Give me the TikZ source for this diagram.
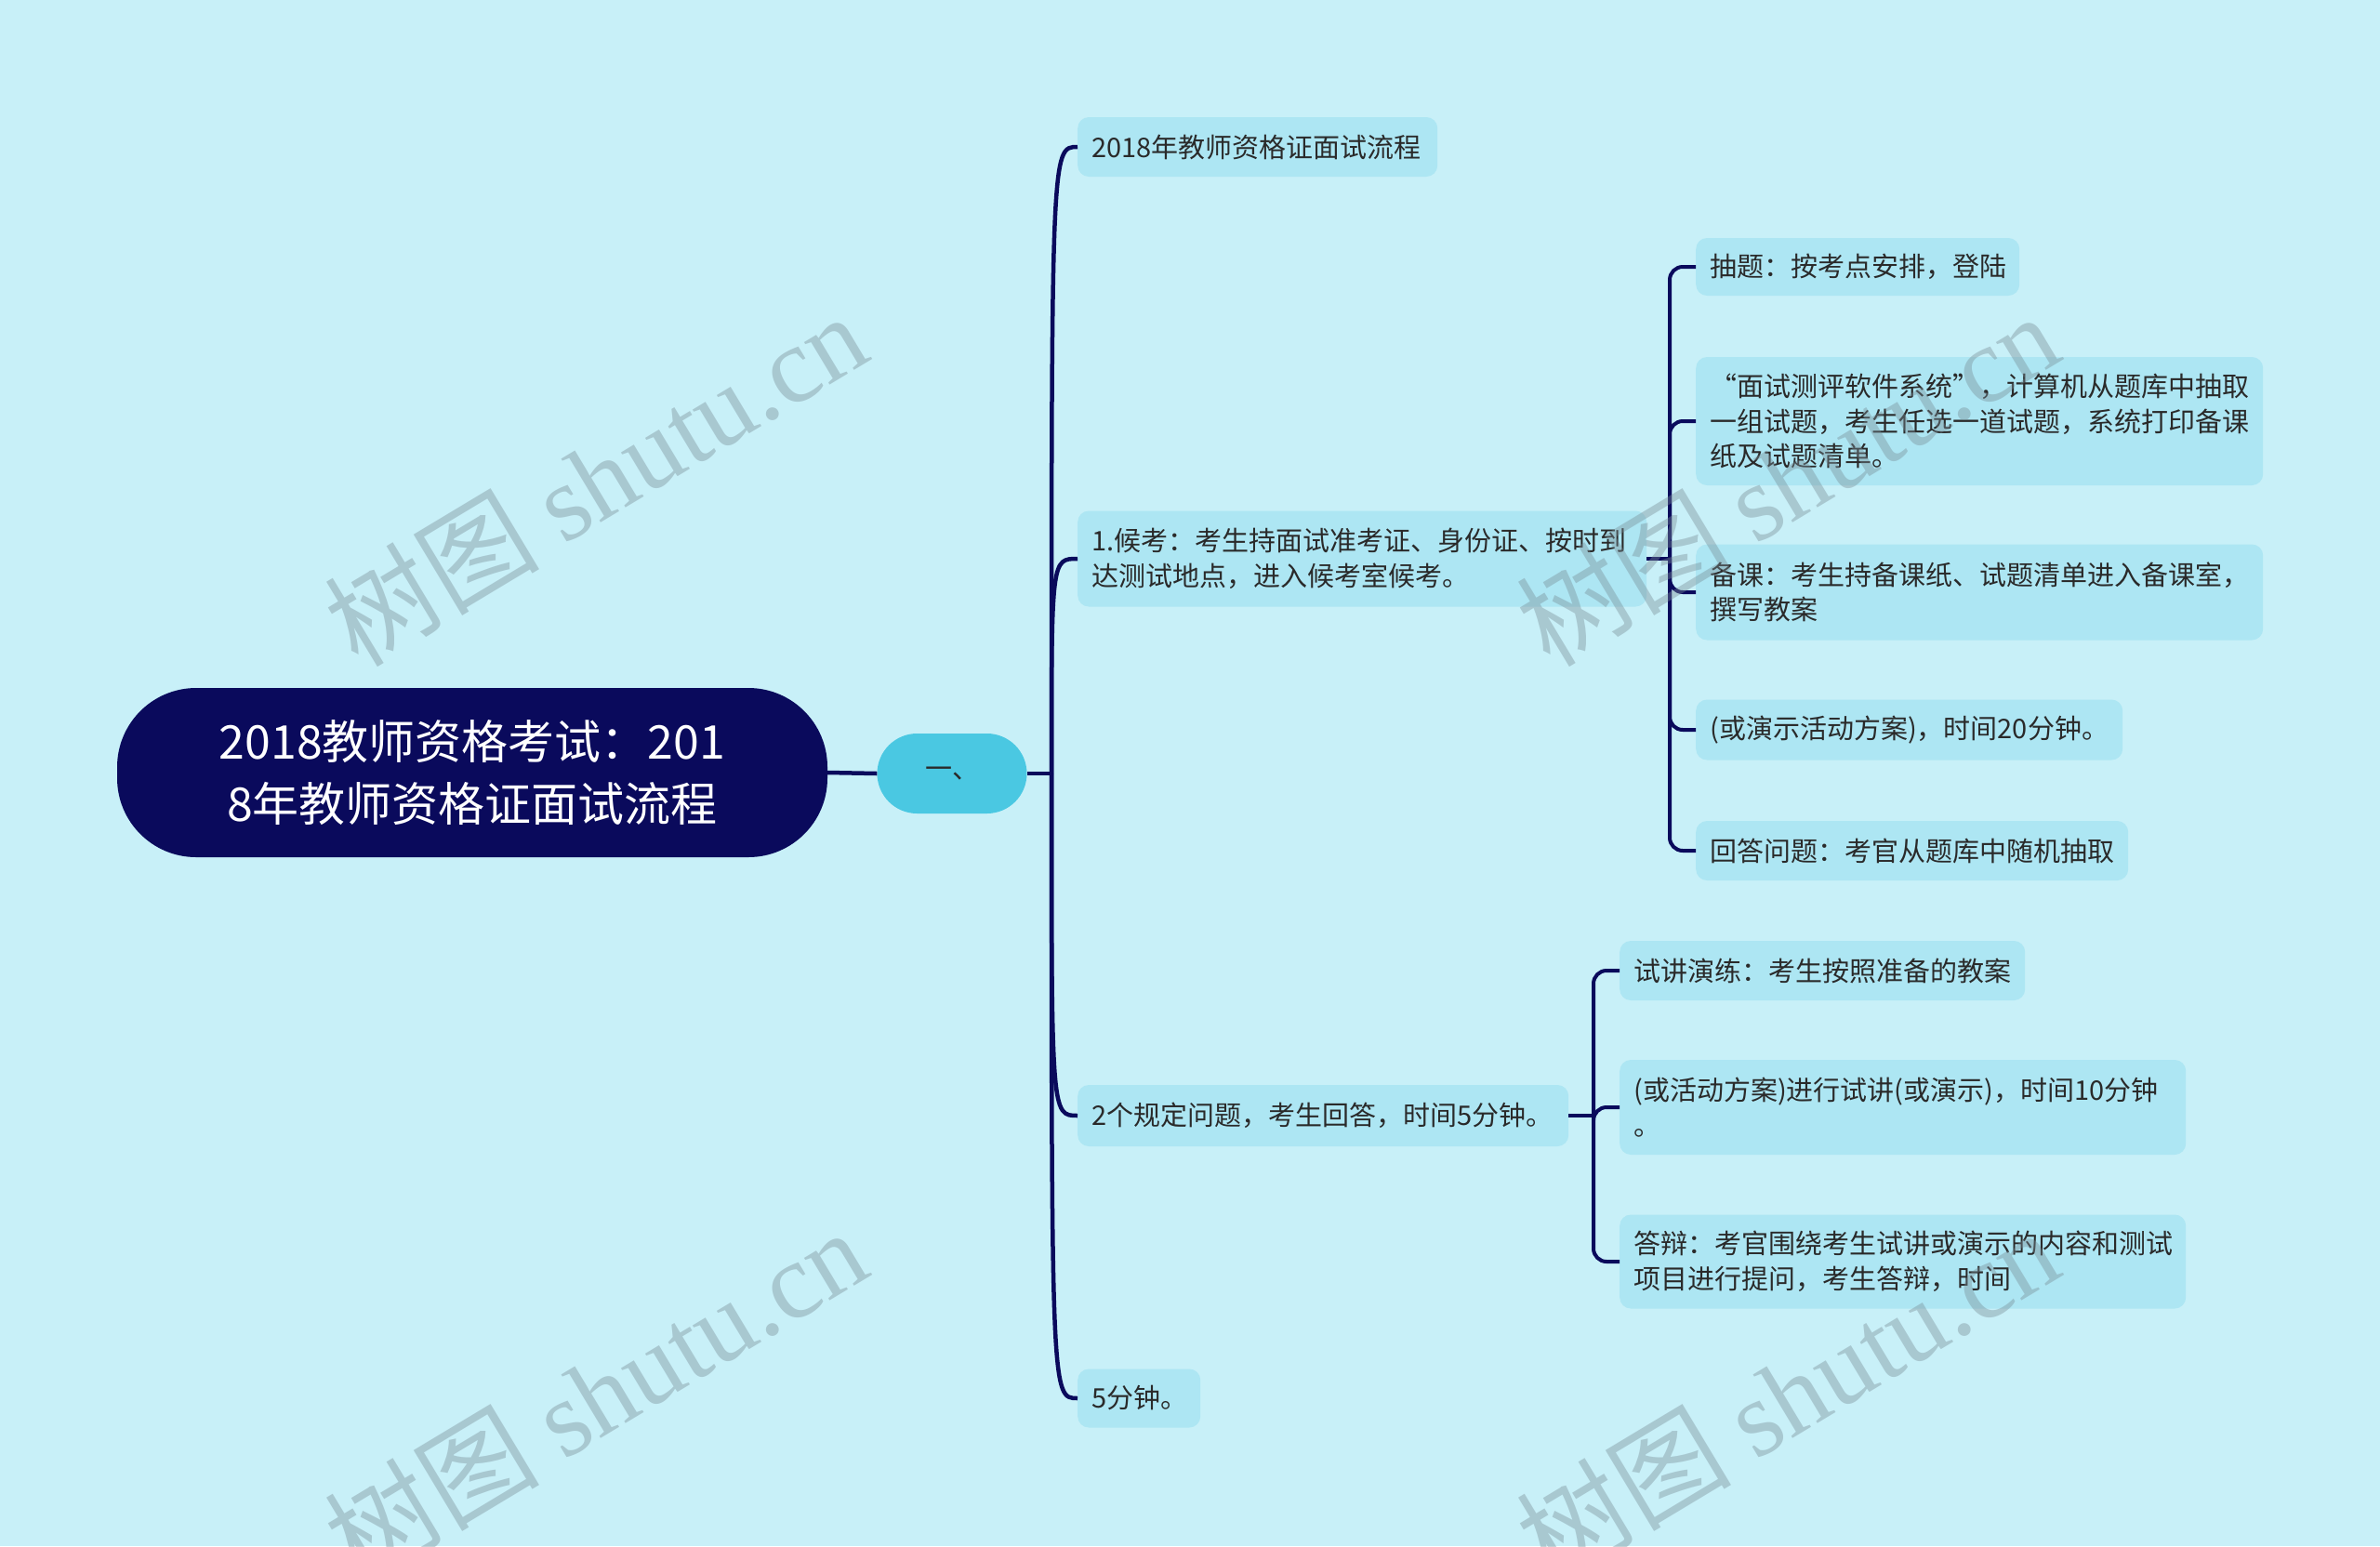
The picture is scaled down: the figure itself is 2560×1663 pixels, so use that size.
\documentclass[tikz,border=0pt]{standalone}
\usepackage{fontspec}
\setmainfont{Noto Sans CJK SC}
\newfontfamily\wmserif{Liberation Serif}
\newfontfamily\wmcjk{Noto Sans CJK SC}
\usetikzlibrary{calc}
\definecolor{bgc}{HTML}{C8F0F8}
\definecolor{boxc}{HTML}{ADE6F3}
\definecolor{navy}{HTML}{0A0A5C}
\definecolor{cyanc}{HTML}{4AC8E2}
\definecolor{txtc}{HTML}{2A2A2A}
\definecolor{wmc}{HTML}{788C96}
\begin{document}
\begin{tikzpicture}[x=1pt,y=-1pt,
  box/.style={fill=boxc, rounded corners=12pt, inner xsep=15pt, inner ysep=0pt, anchor=west, align=left, text=txtc, font=\fontsize{29}{37.5}\selectfont},
  conn/.style={draw=navy, line width=4.5pt},
  br/.style={draw=navy, line width=4pt, rounded corners=14pt},
  wm/.style={text=wmc, text opacity=0.4, rotate=31, font=\fontsize{116}{120}\selectfont}]
\fill[bgc] (0,0) rectangle (2560,1663);
\useasboundingbox (0,0) rectangle (2560,1663);

% root and first level
\node[fill=navy, rounded corners=85pt, minimum width=764pt, minimum height=182pt, text=white, align=center, font=\fontsize{50}{67}\selectfont] (root) at (508,831) {2018教师资格考试：201\\8年教师资格证面试流程};
\node[fill=cyanc, rounded corners=43pt, minimum width=161pt, minimum height=86pt, text=txtc, font=\fontsize{29}{35}\selectfont] (n1) at (1024,832) {一、};

\node[box, text width=357pt, minimum height=64pt] (A) at (1159,158) {2018年教师资格证面试流程};
\node[box, text width=582pt, minimum height=103pt] (B) at (1159,601) {1.候考：考生持面试准考证、身份证、按时到\\达测试地点，进入候考室候考。};
\node[box, text width=498pt, minimum height=66pt] (C) at (1159,1200) {2个规定问题，考生回答，时间5分钟。};
\node[box, text width=102pt, minimum height=63pt] (D) at (1159,1504) {5分钟。};

% second level under B
\node[box, text width=318pt, minimum height=62pt] (B1) at (1824,287) {抽题：按考点安排，登陆};
\node[box, text width=580pt, minimum height=138pt] (B2) at (1824,453) {“面试测评软件系统”，计算机从题库中抽取\\一组试题，考生任选一道试题，系统打印备课\\纸及试题清单。};
\node[box, text width=580pt, minimum height=103pt] (B3) at (1824,637) {备课：考生持备课纸、试题清单进入备课室，\\撰写教案};
\node[box, text width=429pt, minimum height=65pt] (B4) at (1824,785) {(或演示活动方案)，时间20分钟。};
\node[box, text width=435pt, minimum height=64pt] (B5) at (1824,915) {回答问题：考官从题库中随机抽取};

% second level under C
\node[box, text width=406pt, minimum height=64pt] (C1) at (1742,1044) {试讲演练：考生按照准备的教案};
\node[box, text width=579pt, minimum height=102pt] (C2) at (1742,1191) {(或活动方案)进行试讲(或演示)，时间10分钟\\。};
\node[box, text width=579pt, minimum height=101pt] (C3) at (1742,1357) {答辩：考官围绕考生试讲或演示的内容和测试\\项目进行提问，考生答辩，时间};

% connectors
\draw[conn] (root.east) -- (n1.west);
\coordinate (t) at (1131,832);
\draw[conn] (n1.east) -- (t);
\foreach \c in {A,B,C,D} \draw[conn] (t) .. controls (t |- \c.west) .. (\c.west);

\coordinate (bB) at (1796,601);
\draw[br] (B.east) -- (bB);
\foreach \c in {B1,B2,B3,B4,B5} \draw[br] (bB) |- (\c.west);

\coordinate (bC) at (1714,1200);
\draw[br] (C.east) -- (bC);
\foreach \c in {C1,C2,C3} \draw[br] (bC) |- (\c.west);

% watermarks
\node[wm] (w1) at (640,515) {{\wmcjk 树图} {\wmserif shutu.cn}};
\node[wm] (w2) at (640,1500) {{\wmcjk 树图} {\wmserif shutu.cn}};
\node[wm] (w3) at (1922,515) {{\wmcjk 树图} {\wmserif shutu.cn}};
\node[wm] (w4) at (1922,1500) {{\wmcjk 树图} {\wmserif shutu.cn}};
\end{tikzpicture}
\end{document}
